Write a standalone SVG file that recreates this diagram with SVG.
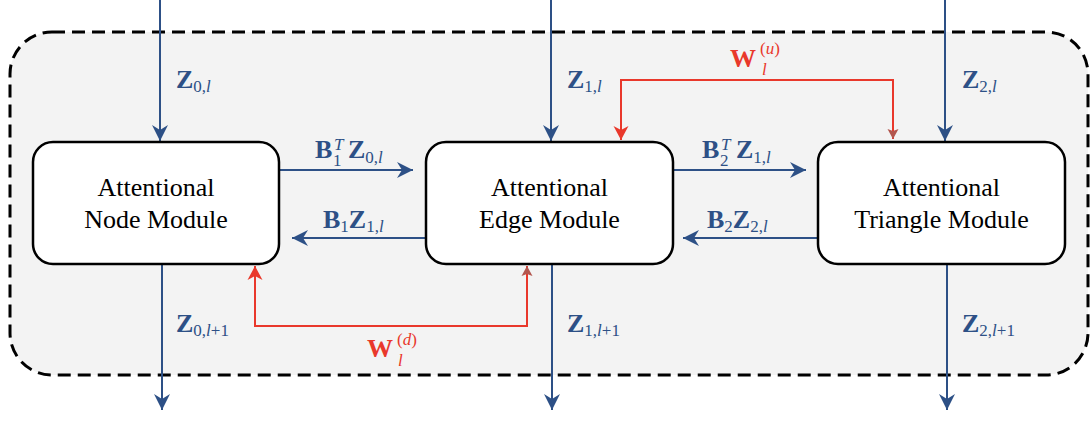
<svg xmlns="http://www.w3.org/2000/svg" width="1091" height="422" viewBox="0 0 1091 422">
<style>
.box{fill:#fff;stroke:#000;stroke-width:2.5}
text{font-family:'Liberation Serif','Times New Roman',Times,'DejaVu Serif',serif}
.lbl{font-size:26px;fill:#000;text-anchor:middle}
.m{font-size:26px;font-weight:bold;fill:#2d5086}
.mr{font-size:26px;font-weight:bold;fill:#e9382b}
.s{font-size:17px;font-weight:normal}
.i{font-style:italic}
.blue{fill:none;stroke:#2d5086;stroke-width:2}
.red{fill:none;stroke:#e9382b;stroke-width:2}
</style>
<defs>
<marker id="hb" markerUnits="userSpaceOnUse" viewBox="-17 -9 18 18" refX="0" refY="0" markerWidth="18" markerHeight="18" orient="auto">
<path d="M0,0 L-16,-8 L-11,0 L-16,8 Z" fill="#2d5086"/>
</marker>
<marker id="hr" markerUnits="userSpaceOnUse" viewBox="-15 -8 16 16" refX="0" refY="0" markerWidth="16" markerHeight="16" orient="auto-start-reverse">
<path d="M0,0 L-14,-7.5 L-10,0 L-14,7.5 Z" fill="#e9382b"/>
</marker>
<marker id="hbr" markerUnits="userSpaceOnUse" viewBox="-11 -6 12 12" refX="0" refY="0" markerWidth="12" markerHeight="12" orient="auto">
<path d="M0,0 L-10,-5.5 L-8,0 L-10,5.5 Z" fill="#b3564e"/>
</marker>
</defs>

<rect id="container" x="10" y="32" width="1078" height="343" rx="42" fill="#f3f3f3" stroke="#000" stroke-width="3" stroke-dasharray="13 7"/>

<g id="connectors">
<line class="blue" x1="160" y1="0" x2="160" y2="141" marker-end="url(#hb)"/>
<line class="blue" x1="551" y1="0" x2="551" y2="141" marker-end="url(#hb)"/>
<line class="blue" x1="945" y1="0" x2="945" y2="141" marker-end="url(#hb)"/>
<line class="blue" x1="162" y1="264" x2="162" y2="410" marker-end="url(#hb)"/>
<line class="blue" x1="552" y1="264" x2="552" y2="410" marker-end="url(#hb)"/>
<line class="blue" x1="947" y1="264" x2="947" y2="410" marker-end="url(#hb)"/>
<line class="blue" x1="279" y1="170" x2="413" y2="170" marker-end="url(#hb)"/>
<line class="blue" x1="673" y1="170" x2="806" y2="170" marker-end="url(#hb)"/>
<line class="blue" x1="426" y1="238" x2="292" y2="238" marker-end="url(#hb)"/>
<line class="blue" x1="818" y1="238" x2="683" y2="238" marker-end="url(#hb)"/>
<path class="red" d="M621,140 L621,80 L893,80 L893,139" marker-start="url(#hr)" marker-end="url(#hbr)"/>
<path class="red" d="M255,266 L255,326 L527,326 L527,266" marker-start="url(#hr)" marker-end="url(#hbr)"/>
</g>

<g id="node-module">
<rect class="box" x="33" y="142" width="246" height="122" rx="20"/>
<text class="lbl" x="156" y="196" font-family="Liberation Serif">Attentional</text>
<text class="lbl" x="156" y="228" font-family="Liberation Serif">Node Module</text>
</g>
<g id="edge-module">
<rect class="box" x="426" y="142" width="247" height="122" rx="20"/>
<text class="lbl" x="549.5" y="196" font-family="Liberation Serif">Attentional</text>
<text class="lbl" x="549.5" y="228" font-family="Liberation Serif">Edge Module</text>
</g>
<g id="triangle-module">
<rect class="box" x="818" y="142" width="247" height="122" rx="20"/>
<text class="lbl" x="941.5" y="196" font-family="Liberation Serif">Attentional</text>
<text class="lbl" x="941.5" y="228" font-family="Liberation Serif">Triangle Module</text>
</g>

<g id="labels">
<text class="m" x="176" y="88">Z<tspan class="s" dy="4">0,</tspan><tspan class="s i">l</tspan></text>
<text class="m" x="567" y="88">Z<tspan class="s" dy="4">1,</tspan><tspan class="s i">l</tspan></text>
<text class="m" x="962" y="88">Z<tspan class="s" dy="4">2,</tspan><tspan class="s i">l</tspan></text>
<text class="m" x="176" y="332">Z<tspan class="s" dy="4">0,</tspan><tspan class="s i">l</tspan><tspan class="s">+1</tspan></text>
<text class="m" x="567" y="332">Z<tspan class="s" dy="4">1,</tspan><tspan class="s i">l</tspan><tspan class="s">+1</tspan></text>
<text class="m" x="962" y="332">Z<tspan class="s" dy="4">2,</tspan><tspan class="s i">l</tspan><tspan class="s">+1</tspan></text>
<text class="m" x="315" y="158">B<tspan class="s i" x="334" y="150">T</tspan><tspan class="s" x="333" y="166">1</tspan><tspan x="348" y="158">Z</tspan><tspan class="s" dy="5">0,</tspan><tspan class="s i">l</tspan></text>
<text class="m" x="702" y="158">B<tspan class="s i" x="721" y="150">T</tspan><tspan class="s" x="720" y="166">2</tspan><tspan x="736" y="158">Z</tspan><tspan class="s" dy="5">1,</tspan><tspan class="s i">l</tspan></text>
<text class="m" x="323" y="228">B<tspan class="s" dy="4">1</tspan><tspan dy="-4">Z</tspan><tspan class="s" dy="4">1,</tspan><tspan class="s i">l</tspan></text>
<text class="m" x="707" y="228">B<tspan class="s" dy="4">2</tspan><tspan dy="-4">Z</tspan><tspan class="s" dy="4">2,</tspan><tspan class="s i">l</tspan></text>
<text class="mr" x="730" y="67">W<tspan class="s" x="760" y="54">(</tspan><tspan class="s i">u</tspan><tspan class="s">)</tspan><tspan class="s i" x="762" y="75">l</tspan></text>
<text class="mr" x="367" y="357">W<tspan class="s" x="397" y="345">(</tspan><tspan class="s i">d</tspan><tspan class="s">)</tspan><tspan class="s i" x="398" y="366">l</tspan></text>
</g>
</svg>
